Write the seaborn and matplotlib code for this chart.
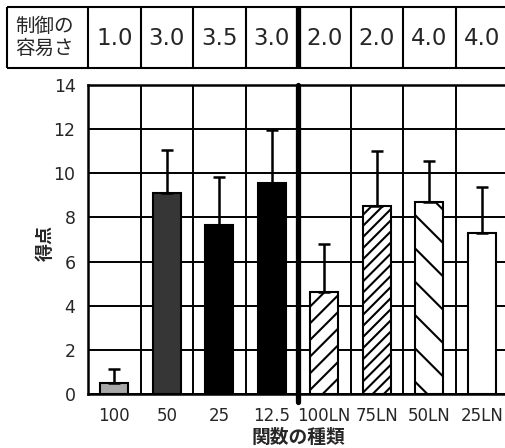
import numpy as np
import matplotlib
matplotlib.use('Agg')
import matplotlib.pyplot as plt
import seaborn as sns

# データ
kinds = ['100', '50', '25', '12.5', '100LN', '75LN', '50LN', '25LN']
scores = [0.5, 9.1, 7.65, 9.55, 4.6, 8.5, 8.7, 7.3]
score_err = [0.65, 1.95, 2.2, 2.4, 2.2, 2.5, 1.85, 2.1]
ease = ['1.0', '3.0', '3.5', '3.0', '2.0', '2.0', '4.0', '4.0']

# 見た目
fills = ['#a8a8a8', '#363636', 'black', 'black', 'white', 'white', 'white', 'white']
hatches = ['', '', '', '', '//', '///', '\\', '']

sns.set_style('white')
plt.rcParams['font.family'] = ['DejaVu Sans', 'Noto Sans CJK JP']
plt.rcParams['hatch.linewidth'] = 1.5

W, H = 505, 448
fig = plt.figure(figsize=(W / 100, H / 100), dpi=100)

# メインの棒グラフ (右端は画像の外まで続く)
ax = fig.add_axes([88 / W, (H - 394) / H, 420 / W, 309 / H])
sns.barplot(x=kinds, y=scores, ax=ax, width=0.53, errorbar=None,
            edgecolor='black', linewidth=1.5, saturation=1)
for bar, fc, h in zip(ax.patches, fills, hatches):
    bar.set_facecolor(fc)
    bar.set_hatch(h)
    bar.set_zorder(2)

# 上側だけの誤差棒
ax.errorbar(range(len(kinds)), scores, yerr=[np.zeros(len(kinds)), score_err],
            fmt='none', ecolor='black', elinewidth=1.8, capsize=4, capthick=1.8, zorder=3)

ax.set_xlim(-0.5, 7.5)
ax.set_ylim(0, 14)
ax.set_yticks(range(0, 15, 2))
ax.set_yticks(np.arange(0, 14.01, 0.5), minor=True)
ax.set_xticks(np.arange(0.5, 7, 1), labels=[''] * 7)
ax.set_xticks(range(len(kinds)), labels=kinds, minor=True)

ax.set_axisbelow(True)
ax.grid(True, which='major', color='black', linewidth=1.4)
ax.tick_params(axis='x', which='major', length=7, width=1.5, direction='out')
ax.tick_params(axis='x', which='minor', length=0, labelsize=12, pad=9)
ax.tick_params(axis='y', which='major', length=7, width=1.5, direction='out',
               labelsize=12.5, pad=2)
ax.tick_params(axis='y', which='minor', length=3.5, width=1.2, direction='out')
for side in ['left', 'bottom', 'top', 'right']:
    ax.spines[side].set_color('black')
    ax.spines[side].set_linewidth(1.8)

# 太い区切り線
ax.axvline(3.5, ymin=-0.025, ymax=1, color='black', lw=3.8, clip_on=False, zorder=2.5)

ax.set_xlabel('関数の種類', fontsize=13.5, fontweight='bold',
              family=['Noto Sans CJK JP'])
ax.xaxis.set_label_coords(0.5, -0.11)
ax.set_ylabel('得点', fontsize=13, fontweight='bold', family=['Noto Sans CJK JP'])
ax.yaxis.set_label_coords(-0.08, 0.49)

# 上の表 (制御の容易さ)
tab = fig.add_axes([7 / W, (H - 68) / H, 501 / W, 61 / H])
left = -0.5 - 81 / 52.5
tab.set_xlim(left, 7.5)
tab.set_ylim(0, 1)
tab.axis('off')
tab.hlines([0, 1], left, 7.5, color='black', lw=1.5, clip_on=False)
edges = [left] + [b for b in np.arange(-0.5, 7.6, 1) if b != 3.5]
tab.vlines(edges, 0, 1, color='black', lw=1.5, clip_on=False)
tab.vlines(3.5, 0, 1, color='black', lw=3.8, clip_on=False)
tab.text(left + 8 / 52.5, 0.5, '制御の\n容易さ', ha='left', va='center',
         fontsize=14, linespacing=1.1, family=['Noto Sans CJK JP'])
for i, v in enumerate(ease):
    tab.text(i, 0.48, v, ha='center', va='center', fontsize=16.5)

fig.savefig('out.png', dpi=100)
